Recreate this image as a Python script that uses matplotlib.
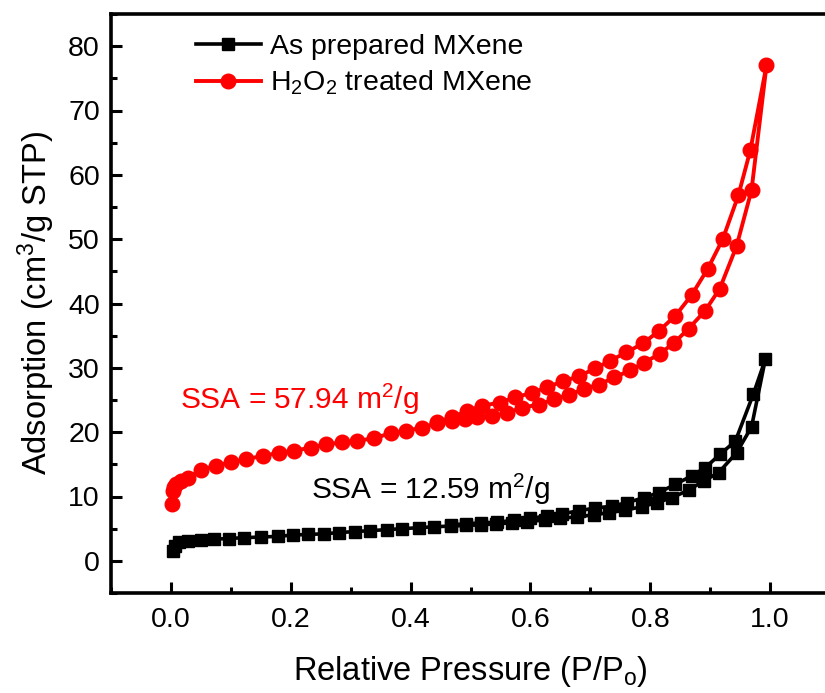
import matplotlib
matplotlib.use("Agg")
import matplotlib.pyplot as plt
from matplotlib.ticker import MultipleLocator

plt.rcParams['font.family'] = ['Liberation Sans', 'DejaVu Sans']
plt.rcParams['mathtext.fontset'] = 'custom'
plt.rcParams['mathtext.rm'] = 'Liberation Sans'
plt.rcParams['mathtext.it'] = 'Liberation Sans'

# As prepared MXene: adsorption branch then desorption branch
black_x = [0.003, 0.006, 0.014, 0.028, 0.05, 0.072, 0.097, 0.122, 0.15, 0.178,
           0.203, 0.228, 0.256, 0.281, 0.308, 0.333, 0.361, 0.386, 0.414, 0.439,
           0.467, 0.492, 0.517, 0.542, 0.569, 0.594, 0.625, 0.65, 0.678, 0.706,
           0.731, 0.758, 0.786, 0.811, 0.836, 0.864, 0.889, 0.914, 0.944, 0.969,
           0.992,
           0.972, 0.942, 0.917, 0.892, 0.869, 0.842, 0.814, 0.789, 0.761, 0.736,
           0.708, 0.681, 0.653, 0.628, 0.6, 0.572, 0.544, 0.517, 0.492, 0.467]
black_y = [1.5, 2.3, 2.85, 3.1, 3.26, 3.37, 3.47, 3.6, 3.7, 3.8,
           4.0, 4.1, 4.2, 4.4, 4.55, 4.7, 4.85, 5.0, 5.15, 5.3,
           5.4, 5.5, 5.6, 5.75, 5.9, 6.1, 6.35, 6.6, 6.85, 7.15,
           7.5, 7.9, 8.4, 9.05, 9.8, 11.0, 12.4, 13.7, 16.8, 20.8,
           31.3,
           25.9, 18.6, 16.6, 14.5, 13.2, 11.9, 10.6, 9.8, 9.05, 8.5,
           8.2, 7.8, 7.3, 7.0, 6.6, 6.3, 6.0, 5.9, 5.75, 5.6]

# H2O2 treated MXene: adsorption branch then desorption branch
red_x = [0.002, 0.003, 0.005, 0.008, 0.017, 0.028, 0.05, 0.075, 0.1, 0.125,
         0.153, 0.181, 0.206, 0.233, 0.258, 0.286, 0.311, 0.339, 0.367, 0.392,
         0.419, 0.444, 0.469, 0.49, 0.511, 0.536, 0.561, 0.586, 0.614, 0.639,
         0.664, 0.689, 0.714, 0.74, 0.766, 0.79, 0.816, 0.84, 0.864, 0.891,
         0.916, 0.944, 0.969, 0.994,
         0.967, 0.947, 0.921, 0.896, 0.869, 0.842, 0.814, 0.788, 0.76, 0.733,
         0.708, 0.681, 0.654, 0.628, 0.602, 0.574, 0.549, 0.519, 0.494, 0.469,
         0.444]
red_y = [8.9, 10.9, 11.5, 11.9, 12.4, 12.9, 14.1, 14.8, 15.3, 15.8,
         16.3, 16.8, 17.1, 17.6, 18.1, 18.4, 18.6, 19.1, 19.8, 20.2,
         20.7, 21.4, 21.8, 22.1, 22.3, 22.5, 23.0, 23.8, 24.3, 25.1,
         25.8, 26.7, 27.4, 28.5, 29.6, 30.8, 32.2, 33.9, 36.1, 38.8,
         42.3, 48.9, 57.6, 77.0,
         63.8, 56.8, 50.0, 45.4, 41.3, 38.1, 35.7, 33.8, 32.4, 31.1,
         29.9, 28.7, 27.9, 27.0, 26.1, 25.4, 24.6, 24.1, 23.3, 22.3,
         21.6]

labels = ['As prepared MXene', r'H$_2$O$_2$ treated MXene']
ssa_texts = [r'SSA = 57.94 m$^2$/g', r'SSA = 12.59 m$^2$/g']

fig = plt.figure(figsize=(8.25, 6.93), dpi=100)
ax = fig.add_axes([111 / 825, 100 / 693, 719 / 825, 579 / 693])

ax.plot(black_x, black_y, '-s', color='black', lw=2.6, ms=9,
        label=labels[0])
ax.plot(red_x, red_y, '-o', color='red', lw=2.8, ms=10.5,
        label=labels[1])

ax.text(0.015, 23.6, ssa_texts[0], color='red', fontsize=21.5)
ax.text(0.234, 9.6, ssa_texts[1], color='black', fontsize=21.5)

ax.set_xlim(-0.1, 1.1)
ax.set_ylim(-5, 85)
ax.xaxis.set_minor_locator(MultipleLocator(0.1))
ax.yaxis.set_minor_locator(MultipleLocator(5))
ax.set_xticks([0.0, 0.2, 0.4, 0.6, 0.8, 1.0])
ax.set_xticklabels(['0.0', '0.2', '0.4', '0.6', '0.8', '1.0'])
ax.set_yticks(range(0, 81, 10))

ax.tick_params(which='both', direction='in', width=2.2, labelsize=20.5,
               top=False, right=False)
ax.tick_params(which='major', length=8)
ax.tick_params(which='minor', length=4)
ax.tick_params(axis='x', pad=10)
ax.tick_params(axis='y', pad=8)

for s in ax.spines.values():
    s.set_linewidth(2.6)

ax.set_xlabel('Relative Pressure (P/P$_o$)', fontsize=23.5, labelpad=15)
ax.set_ylabel('Adsorption (cm$^3$/g STP)', fontsize=23.5, labelpad=8)

ax.legend(loc='upper left', bbox_to_anchor=(0.09, 1.0), frameon=False,
          fontsize=20.5, handlelength=2.3, handletextpad=0.3,
          labelspacing=0.3, borderaxespad=0.3)

fig.savefig('out.png', dpi=100)
